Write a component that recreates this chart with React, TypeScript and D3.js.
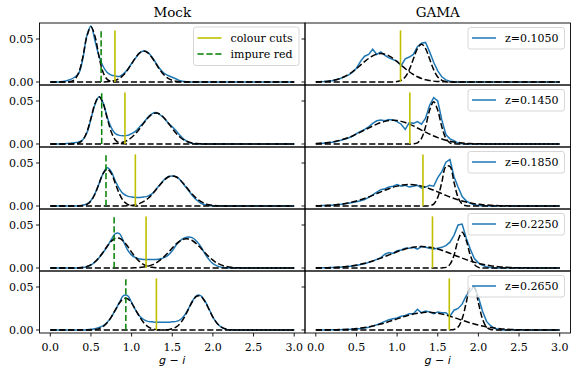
import React from 'react'
import * as d3 from 'd3'

// g-i bin centres shared by every curve (0.00 ... 3.00, step 0.05)
const binsGI = d3.range(0, 61).map(i => +(i * 0.05).toFixed(2))

// all densities below are in units of 1e-3
const mockHist1 = [
  0, 0, 0, 0.5, 1.5, 3, 5.5, 10, 27, 54,
  65, 48, 30, 18, 11, 8, 7, 6.5, 9.5, 14.5,
  21.5, 28, 34, 36, 34.5, 29, 22, 15, 10, 7.5,
  5.5, 3.5, 1.5, 0.5, 0, 0, 0, 0, 0, 0,
  0, 0, 0, 0, 0, 0, 0, 0, 0, 0,
  0, 0, 0, 0, 0, 0, 0, 0, 0, 0, 0]
const mockBlue1 = [
  0, 0, 0, 0, 0, 0.5, 3, 11, 29, 53,
  64, 53, 29, 11, 3, 0.5, 0, 0, 0, 0,
  0, 0, 0, 0, 0, 0, 0, 0, 0, 0,
  0, 0, 0, 0, 0, 0, 0, 0, 0, 0,
  0, 0, 0, 0, 0, 0, 0, 0, 0, 0,
  0, 0, 0, 0, 0, 0, 0, 0, 0, 0, 0]
const mockRed1 = [
  0, 0, 0, 0, 0, 0, 0, 0, 0, 0,
  0, 0, 0, 0.1, 0.3, 0.8, 1.9, 4.2, 8.1, 13.9,
  21.1, 28.4, 33.9, 36, 33.9, 28.4, 21.1, 13.9, 8.1, 4.2,
  1.9, 0.8, 0.3, 0.1, 0, 0, 0, 0, 0, 0,
  0, 0, 0, 0, 0, 0, 0, 0, 0, 0,
  0, 0, 0, 0, 0, 0, 0, 0, 0, 0, 0]

const mockHist2 = [
  0, 0, 0, 0, 0.5, 1, 1.5, 2.5, 5, 13,
  29, 46, 55, 48, 31, 19, 12, 10, 9.5, 10,
  12, 15, 20, 25, 31, 35, 36.5, 34, 30, 24.5,
  20, 15, 9.5, 5, 2, 0.7, 0, 0, 0, 0,
  0, 0, 0, 0, 0, 0, 0, 0, 0, 0,
  0, 0, 0, 0, 0, 0, 0, 0, 0, 0, 0]
const mockBlue2 = [
  0, 0, 0, 0, 0, 0, 0.2, 1.2, 4.7, 14,
  30, 47, 55, 47, 30, 14, 4.7, 1.2, 0.2, 0,
  0, 0, 0, 0, 0, 0, 0, 0, 0, 0,
  0, 0, 0, 0, 0, 0, 0, 0, 0, 0,
  0, 0, 0, 0, 0, 0, 0, 0, 0, 0,
  0, 0, 0, 0, 0, 0, 0, 0, 0, 0, 0]
const mockRed2 = [
  0, 0, 0, 0, 0, 0, 0, 0, 0, 0,
  0, 0, 0, 0, 0, 0.2, 0.5, 1.1, 2.3, 4.3,
  7.6, 12.2, 18, 24.4, 30.3, 34.5, 36, 34.5, 30.3, 24.4,
  18, 12.2, 7.6, 4.3, 2.3, 1.1, 0.5, 0.2, 0, 0,
  0, 0, 0, 0, 0, 0, 0, 0, 0, 0,
  0, 0, 0, 0, 0, 0, 0, 0, 0, 0, 0]

const mockHist3 = [
  0, 0, 0, 0, 0, 0, 0, 0.3, 1, 2.5,
  6.5, 14.5, 26, 38, 44.5, 40, 29, 20, 14, 11.5,
  10.5, 10, 10, 10.5, 11.5, 14, 19.5, 25, 30.5, 34,
  35, 34, 30, 24, 18, 12, 7, 3.5, 1.5, 0.5,
  0, 0, 0, 0, 0, 0, 0, 0, 0, 0,
  0, 0, 0, 0, 0, 0, 0, 0, 0, 0, 0]
const mockBlue3 = [
  0, 0, 0, 0, 0, 0, 0, 0.1, 0.5, 1.9,
  5.8, 14, 26.1, 37.9, 43, 37.9, 26.1, 14, 5.8, 1.9,
  0.5, 0.1, 0, 0, 0, 0, 0, 0, 0, 0,
  0, 0, 0, 0, 0, 0, 0, 0, 0, 0,
  0, 0, 0, 0, 0, 0, 0, 0, 0, 0,
  0, 0, 0, 0, 0, 0, 0, 0, 0, 0, 0]
const mockRed3 = [
  0, 0, 0, 0, 0, 0, 0, 0, 0, 0,
  0, 0, 0, 0, 0, 0, 0, 0, 0.1, 0.3,
  0.7, 1.5, 3, 5.3, 8.7, 13.3, 18.9, 24.7, 30, 33.7,
  35, 33.7, 30, 24.7, 18.9, 13.3, 8.7, 5.3, 3, 1.5,
  0.7, 0.3, 0.1, 0, 0, 0, 0, 0, 0, 0,
  0, 0, 0, 0, 0, 0, 0, 0, 0, 0, 0]

const mockHist4 = [
  0, 0, 0, 0, 0, 0, 0, 0, 0.5, 1.5,
  3.5, 7, 12, 18, 25, 33, 40, 40, 31, 21,
  15, 12, 10.5, 10, 10, 10, 10, 10.5, 12, 15,
  20, 27, 32, 35, 36, 35, 31, 25, 17, 10,
  5, 2.5, 1, 0.3, 0, 0, 0, 0, 0, 0,
  0, 0, 0, 0, 0, 0, 0, 0, 0, 0, 0]
const mockBlue4 = [
  0, 0, 0, 0, 0, 0, 0.1, 0.3, 0.8, 1.9,
  3.9, 7.2, 12.2, 18.5, 25.3, 31.1, 34.5, 34.5, 31.1, 25.3,
  18.5, 12.2, 7.2, 3.9, 1.9, 0.8, 0.3, 0.1, 0, 0,
  0, 0, 0, 0, 0, 0, 0, 0, 0, 0,
  0, 0, 0, 0, 0, 0, 0, 0, 0, 0,
  0, 0, 0, 0, 0, 0, 0, 0, 0, 0, 0]
const mockRed4 = [
  0, 0, 0, 0, 0, 0, 0, 0, 0, 0,
  0, 0, 0, 0, 0, 0, 0, 0, 0, 0,
  0, 0.3, 0.5, 1.1, 2, 3.6, 5.8, 9.1, 13.2, 18.1,
  23.2, 28, 31.7, 33.7, 33.7, 31.7, 28, 23.2, 18.1, 13.2,
  9.1, 5.8, 3.6, 2, 1.1, 0.5, 0.3, 0, 0, 0,
  0, 0, 0, 0, 0, 0, 0, 0, 0, 0, 0]

const mockHist5 = [
  0, 0, 0, 0, 0, 0, 0, 0, 0, 0.3,
  0.8, 1.5, 3, 5, 9, 15, 23, 32, 40, 40,
  32, 23, 16, 12, 10, 9.5, 9, 9, 9, 9,
  9.5, 10, 12, 17, 25, 34, 40, 40, 34, 25,
  15, 8, 3.5, 1, 0, 0, 0, 0, 0, 0,
  0, 0, 0, 0, 0, 0, 0, 0, 0, 0, 0]
const mockBlue5 = [
  0, 0, 0, 0, 0, 0, 0, 0, 0, 0,
  0.2, 0.6, 1.6, 4, 8.3, 15, 23.3, 31.3, 36.3, 36.3,
  31.3, 23.3, 15, 8.3, 4, 1.6, 0.6, 0.2, 0, 0,
  0, 0, 0, 0, 0, 0, 0, 0, 0, 0,
  0, 0, 0, 0, 0, 0, 0, 0, 0, 0,
  0, 0, 0, 0, 0, 0, 0, 0, 0, 0, 0]
const mockRed5 = [
  0, 0, 0, 0, 0, 0, 0, 0, 0, 0,
  0, 0, 0, 0, 0, 0, 0, 0, 0, 0,
  0, 0, 0, 0, 0, 0, 0, 0, 0.1, 0.4,
  1.4, 3.6, 7.9, 15, 24.3, 33.4, 39.2, 39.2, 33.4, 24.3,
  15, 7.9, 3.6, 1.4, 0.4, 0.1, 0, 0, 0, 0,
  0, 0, 0, 0, 0, 0, 0, 0, 0, 0, 0]

const gamaHist1 = [
  0.2, 0.3, 0.5, 1, 1.5, 2.5, 4, 6, 8, 11,
  16, 24, 30, 32, 38, 32, 35, 31, 28, 26,
  24, 19, 27, 29, 32, 41, 45, 46, 35, 23,
  13, 6, 2.5, 1, 0.3, 0, 0, 0, 0, 0,
  0, 0, 0, 0, 0, 0, 0, 0, 0, 0,
  0, 0, 0, 0, 0, 0, 0, 0, 0, 0, 0]
const gamaBlue1 = [
  0.2, 0.3, 0.6, 1, 1.7, 2.6, 4.1, 6.1, 8.7, 11.9,
  15.6, 19.6, 23.7, 27.4, 30.4, 32.3, 33, 32.3, 30.4, 27.4,
  23.7, 19.6, 15.6, 11.9, 8.7, 6.1, 4.1, 2.6, 1.7, 1,
  0.6, 0.3, 0.2, 0, 0, 0, 0, 0, 0, 0,
  0, 0, 0, 0, 0, 0, 0, 0, 0, 0,
  0, 0, 0, 0, 0, 0, 0, 0, 0, 0, 0]
const gamaRed1 = [
  0, 0, 0, 0, 0, 0, 0, 0, 0, 0,
  0, 0, 0, 0, 0, 0, 0, 0, 0, 0.1,
  0.5, 1.9, 5.9, 14.3, 26.7, 38.8, 44, 38.8, 26.7, 14.3,
  5.9, 1.9, 0.5, 0.1, 0, 0, 0, 0, 0, 0,
  0, 0, 0, 0, 0, 0, 0, 0, 0, 0,
  0, 0, 0, 0, 0, 0, 0, 0, 0, 0, 0]

const gamaHist2 = [
  0.4, 0.6, 1, 1.5, 2, 3, 4, 5.5, 7, 9,
  12, 14.5, 17, 20, 24, 27, 28, 27, 28.5, 28,
  26, 23, 17, 25, 24, 26, 23, 30, 45, 54,
  50, 28, 11, 6, 4, 1, 0.3, 0, 0, 0,
  0, 0, 0, 0, 0, 0, 0, 0, 0, 0,
  0, 0, 0, 0, 0, 0, 0, 0, 0, 0, 0]
const gamaBlue2 = [
  0.55, 0.8, 1.2, 1.7, 2.4, 3.3, 4.4, 5.8, 7.4, 9.3,
  11.5, 13.8, 16.2, 18.6, 21, 23.1, 24.9, 26.3, 27.2, 27.5,
  27.2, 26.3, 24.9, 23.1, 21, 18.6, 16.2, 13.8, 11.5, 9.3,
  7.4, 5.8, 4.4, 3.3, 2.4, 1.7, 1.2, 0.8, 0.55, 0.36,
  0.23, 0.14, 0.08, 0, 0, 0, 0, 0, 0, 0,
  0, 0, 0, 0, 0, 0, 0, 0, 0, 0, 0]
const gamaRed2 = [
  0, 0, 0, 0, 0, 0, 0, 0, 0, 0,
  0, 0, 0, 0, 0, 0, 0, 0, 0, 0,
  0, 0, 0, 0, 0.2, 1.4, 6.6, 20.1, 39.2, 49,
  39.2, 20.1, 6.6, 1.4, 0.2, 0, 0, 0, 0, 0,
  0, 0, 0, 0, 0, 0, 0, 0, 0, 0,
  0, 0, 0, 0, 0, 0, 0, 0, 0, 0, 0]

const gamaHist3 = [
  0.2, 0.3, 0.5, 0.7, 1, 1.3, 1.8, 2.5, 3.2, 4,
  5, 6, 7.5, 10, 13, 16, 19, 20, 22, 23,
  25, 23, 24, 22, 23, 24, 21, 22, 24, 23,
  33, 40, 51, 54, 34, 22, 11, 6, 3, 1.5,
  0.7, 0.3, 0, 0, 0, 0, 0, 0, 0, 0,
  0, 0, 0, 0, 0, 0, 0, 0, 0, 0, 0]
const gamaBlue3 = [
  0.25, 0.4, 0.55, 0.8, 1.1, 1.5, 2.1, 2.7, 3.6, 4.6,
  5.8, 7.2, 8.8, 10.5, 12.4, 14.4, 16.4, 18.3, 20.1, 21.8,
  23.1, 24.2, 24.8, 25, 24.8, 24.2, 23.1, 21.8, 20.1, 18.3,
  16.4, 14.4, 12.4, 10.5, 8.8, 7.2, 5.8, 4.6, 3.6, 2.7,
  2.1, 1.5, 1.1, 0.8, 0.55, 0.4, 0.25, 0.18, 0.1, 0,
  0, 0, 0, 0, 0, 0, 0, 0, 0, 0, 0]
const gamaRed3 = [
  0, 0, 0, 0, 0, 0, 0, 0, 0, 0,
  0, 0, 0, 0, 0, 0, 0, 0, 0, 0,
  0, 0, 0, 0, 0, 0, 0, 0, 0.3, 2.2,
  10, 27.6, 46, 46, 27.6, 10, 2.2, 0.3, 0, 0,
  0, 0, 0, 0, 0, 0, 0, 0, 0, 0,
  0, 0, 0, 0, 0, 0, 0, 0, 0, 0, 0]

const gamaHist4 = [
  0.1, 0.2, 0.3, 0.4, 0.5, 0.7, 1, 1.3, 1.8, 2.3,
  3, 4, 5, 6.5, 8, 10, 12, 16, 18, 17,
  20, 21, 23, 23, 24, 22, 25, 24, 23, 22,
  23, 24, 26, 30, 38, 50, 51, 35, 22, 11,
  6, 3, 1.5, 0.5, 0, 0, 0, 0, 0, 0,
  0, 0, 0, 0, 0, 0, 0, 0, 0, 0, 0]
const gamaBlue4 = [
  0.13, 0.19, 0.3, 0.4, 0.6, 0.8, 1.1, 1.5, 2, 2.6,
  3.4, 4.3, 5.4, 6.7, 8.1, 9.7, 11.5, 13.3, 15.2, 17.1,
  18.9, 20.6, 22.1, 23.3, 24.2, 24.8, 25, 24.8, 24.2, 23.3,
  22.1, 20.6, 18.9, 17.1, 15.2, 13.3, 11.5, 9.7, 8.1, 6.7,
  5.4, 4.3, 3.4, 2.6, 2, 1.5, 1.1, 0.8, 0.6, 0.4,
  0.3, 0.19, 0.13, 0.08, 0, 0, 0, 0, 0, 0, 0]
const gamaRed4 = [
  0, 0, 0, 0, 0, 0, 0, 0, 0, 0,
  0, 0, 0, 0, 0, 0, 0, 0, 0, 0,
  0, 0, 0, 0, 0, 0, 0, 0, 0, 0,
  0, 0.1, 0.7, 4.2, 14.9, 32.2, 41.5, 32.2, 14.9, 4.2,
  0.7, 0.1, 0, 0, 0, 0, 0, 0, 0, 0,
  0, 0, 0, 0, 0, 0, 0, 0, 0, 0, 0]

const gamaHist5 = [
  0, 0, 0, 0.1, 0.2, 0.3, 0.4, 0.5, 0.7, 0.9,
  1.2, 1.6, 2.2, 3.2, 4.5, 6, 8, 10, 12, 13,
  14, 16, 17, 19, 19, 24, 20, 22, 21, 19,
  21, 20, 20, 16, 23, 25, 30, 40, 45, 51,
  38, 22, 10, 5, 2, 0.5, 0, 0, 0, 0,
  0, 0, 0, 0, 0, 0, 0, 0, 0, 0, 0]
const gamaBlue5 = [
  0, 0.06, 0.1, 0.15, 0.22, 0.32, 0.45, 0.66, 0.9, 1.2,
  1.7, 2.2, 2.8, 3.6, 4.6, 5.7, 6.9, 8.3, 9.8, 11.3,
  12.9, 14.5, 16, 17.4, 18.5, 19.5, 20.1, 20.5, 20.5, 20.1,
  19.5, 18.5, 17.4, 16, 14.5, 12.9, 11.3, 9.8, 8.3, 6.9,
  5.7, 4.6, 3.6, 2.8, 2.2, 1.7, 1.2, 0.9, 0.66, 0.45,
  0.32, 0.22, 0.15, 0.1, 0.06, 0, 0, 0, 0, 0, 0]
const gamaRed5 = [
  0, 0, 0, 0, 0, 0, 0, 0, 0, 0,
  0, 0, 0, 0, 0, 0, 0, 0, 0, 0,
  0, 0, 0, 0, 0, 0, 0, 0, 0, 0,
  0, 0, 0, 0.1, 0.6, 3.4, 13, 31.6, 49.2, 49.2,
  31.6, 13, 3.4, 0.6, 0.1, 0, 0, 0, 0, 0,
  0, 0, 0, 0, 0, 0, 0, 0, 0, 0, 0]

// vertical markers (g-i)
const mockImpureRed = [0.625, 0.632, 0.685, 0.785, 0.929]
const mockColourCuts = [0.795, 0.918, 1.046, 1.178, 1.305]
const gamaColourCuts = [1.042, 1.157, 1.318, 1.435, 1.642]
const redshiftLabels = ['z=0.1050', 'z=0.1450', 'z=0.1850', 'z=0.2250', 'z=0.2650']
const xTicks = [0, 0.5, 1, 1.5, 2, 2.5, 3]
const yTicks = [0, 0.05]
const cutTop = 0.06

const mockRows = [
  {hist: mockHist1, blue: mockBlue1, red: mockRed1},
  {hist: mockHist2, blue: mockBlue2, red: mockRed2},
  {hist: mockHist3, blue: mockBlue3, red: mockRed3},
  {hist: mockHist4, blue: mockBlue4, red: mockRed4},
  {hist: mockHist5, blue: mockBlue5, red: mockRed5},
]
const gamaRows = [
  {hist: gamaHist1, blue: gamaBlue1, red: gamaRed1},
  {hist: gamaHist2, blue: gamaBlue2, red: gamaRed2},
  {hist: gamaHist3, blue: gamaBlue3, red: gamaRed3},
  {hist: gamaHist4, blue: gamaBlue4, red: gamaRed4},
  {hist: gamaHist5, blue: gamaBlue5, red: gamaRed5},
]

const W = 581, H = 375
const colX = [39.5, 305]
const top0 = 23
const panelW = 265.5, panelH = 62
const serif = 'DejaVu Serif'
const BLUE = '#1f77b4', YELLOW = '#bfbf00', GREEN = '#008000'
const DASH = '6.2,2.7'

const x = d3.scaleLinear().domain([-0.133, 3.133]).range([0, panelW])
const y = d3.scaleLinear().domain([-0.0035, 0.0686]).range([panelH, 0])

const smoothLine = d3.line<number>()
  .x((d, i) => x(binsGI[i]))
  .y(d => y(d / 1000))
  .curve(d3.curveCatmullRom.alpha(0.5))
const jaggedLine = d3.line<number>()
  .x((d, i) => x(binsGI[i]))
  .y(d => y(d / 1000))

const Panel = ({row, col, k}) => {
  const isMock = col === 0
  const cut = isMock ? mockColourCuts[k] : gamaColourCuts[k]
  return (
    <g transform={`translate(${colX[col]},${top0 + k * panelH})`}>
      <path d={(isMock ? smoothLine : jaggedLine)(row.hist)} fill="none" stroke={BLUE} strokeWidth={1.5} />
      <path d={smoothLine(row.blue)} fill="none" stroke="#000" strokeWidth={1.5} strokeDasharray={DASH} />
      <path d={smoothLine(row.red)} fill="none" stroke="#000" strokeWidth={1.5} strokeDasharray={DASH} />
      <line x1={x(cut)} x2={x(cut)} y1={y(0)} y2={y(cutTop)} stroke={YELLOW} strokeWidth={1.6} />
      {isMock && (
        <line x1={x(mockImpureRed[k])} x2={x(mockImpureRed[k])} y1={y(0)} y2={y(cutTop)}
          stroke={GREEN} strokeWidth={1.5} strokeDasharray={DASH} />
      )}
      <rect x={0} y={0} width={panelW} height={panelH} fill="none" stroke="#000" strokeWidth={0.9} />
      {yTicks.map(t => (
        <g key={t}>
          <line x1={-3.5} x2={0} y1={y(t)} y2={y(t)} stroke="#000" strokeWidth={0.9} />
          {isMock && (
            <text x={-6} y={y(t) + 4} textAnchor="end" fontSize={11} fontFamily={serif}>{d3.format('.2f')(t)}</text>
          )}
        </g>
      ))}
      {k === 4 && xTicks.map(t => (
        <g key={t}>
          <line x1={x(t)} x2={x(t)} y1={panelH} y2={panelH + 3.5} stroke="#000" strokeWidth={0.9} />
          <text x={x(t)} y={panelH + 17.5} textAnchor="middle" fontSize={11} fontFamily={serif}>{d3.format('.1f')(t)}</text>
        </g>
      ))}
      {isMock && k === 0 && (
        <g fontFamily={serif} fontSize={11}>
          <rect x={154} y={4} width={105.5} height={38.5} rx={2.5} fill="#fff" fillOpacity={0.8} stroke="#ccc" strokeWidth={0.8} />
          <line x1={158} x2={182} y1={15} y2={15} stroke={YELLOW} strokeWidth={1.6} />
          <text x={191} y={19}>colour cuts</text>
          <line x1={158} x2={182} y1={31} y2={31} stroke={GREEN} strokeWidth={1.5} strokeDasharray={DASH} />
          <text x={191} y={35}>impure red</text>
        </g>
      )}
      {!isMock && (
        <g fontFamily={serif} fontSize={11}>
          <rect x={163} y={4.5} width={96.5} height={21.5} rx={2.5} fill="#fff" fillOpacity={0.8} stroke="#ccc" strokeWidth={0.8} />
          <line x1={167} x2={191} y1={15} y2={15} stroke={BLUE} strokeWidth={1.5} />
          <text x={200} y={19}>{redshiftLabels[k]}</text>
        </g>
      )}
    </g>
  )
}

const App = () => {
  const bottom = top0 + 5 * panelH
  return (
    <svg width={W} height={H} viewBox={`0 0 ${W} ${H}`}
      style={{position: 'absolute', left: 0, top: 0, background: '#fff'}}>
      <rect width={W} height={H} fill="#fff" />
      <text x={colX[0] + panelW / 2} y={17} textAnchor="middle" fontSize={13.5} fontFamily={serif}>Mock</text>
      <text x={colX[1] + panelW / 2} y={17} textAnchor="middle" fontSize={13.5} fontFamily={serif}>GAMA</text>
      {mockRows.map((row, k) => <Panel key={'m' + k} row={row} col={0} k={k} />)}
      {gamaRows.map((row, k) => <Panel key={'g' + k} row={row} col={1} k={k} />)}
      {colX.map((cx, i) => (
        <text key={i} x={cx + panelW / 2} y={bottom + 31} textAnchor="middle" fontSize={11} fontFamily="DejaVu Sans">
          <tspan fontStyle="italic">g</tspan>
          <tspan> − </tspan>
          <tspan fontStyle="italic">i</tspan>
        </text>
      ))}
    </svg>
  )
}

export default App
